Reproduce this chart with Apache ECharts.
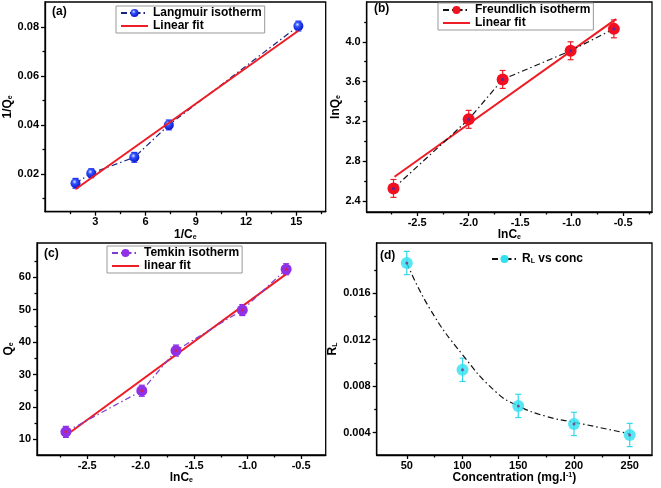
<!DOCTYPE html>
<html><head><meta charset="utf-8">
<script src="https://cdn.jsdelivr.net/npm/echarts@6/dist/echarts.min.js"></script>
<style>html,body{margin:0;padding:0;background:#fff}
#wrap{position:relative;width:661px;height:488px;background:#fff}
.p{position:absolute;left:0;top:0;width:661px;height:488px}</style>
</head><body><div id="wrap"></div>
<script>
// ---------- Data ----------
// (a) Langmuir
const aX = [1.82, 2.76, 5.33, 7.39, 15.12];
const aY = [0.0162, 0.0203, 0.0268, 0.0400, 0.0803];
const aErr = [0.0020, 0.0018, 0.0020, 0.0020, 0.0020];
const aFitX = [1.82, 15.12];
const aFitY = [0.0138, 0.0784];
// (b) Freundlich
const bX = [-2.73, -2.00, -1.67, -1.01, -0.59];
const bY = [2.527, 3.221, 3.622, 3.910, 4.130];
const bErr = [0.09, 0.09, 0.09, 0.09, 0.09];
const bFitX = [-2.72, -0.57];
const bFitY = [2.644, 4.228];
// (c) Temkin
const cX = [-2.70, -1.99, -1.67, -1.05, -0.64];
const cY = [12.3, 25.0, 37.4, 49.9, 62.5];
const cErr = [1.7, 1.7, 1.7, 1.7, 1.7];
const cFitX = [-2.70, -0.64];
const cFitY = [11.2, 61.0];
// (d) RL vs conc
const dX = [50, 100, 150, 200, 250];
const dY = [0.01858, 0.0094, 0.0063, 0.00475, 0.0038];
const dErr = [0.0010, 0.0010, 0.0010, 0.0010, 0.0010];
const dCurveX = [50, 71, 100, 130, 150, 175, 200, 250];
const dCurveY = [0.0186, 0.0146, 0.0107, 0.0075, 0.0063, 0.0054, 0.0049, 0.0039];

// ---------- Tick values ----------
const aXTicks = [3, 6, 9, 12, 15];
const aXMinor = [1.5, 4.5, 7.5, 10.5, 13.5, 16.5];
const aYTicks = [0.02, 0.04, 0.06, 0.08];
const aYMinor = [0.01, 0.03, 0.05, 0.07];
const bXTicks = [-2.5, -2.0, -1.5, -1.0, -0.5];
const bXMinor = [-2.75, -2.25, -1.75, -1.25, -0.75, -0.25];
const bYTicks = [2.4, 2.8, 3.2, 3.6, 4.0];
const bYMinor = [2.6, 3.0, 3.4, 3.8, 4.2];
const cXTicks = [-2.5, -2.0, -1.5, -1.0, -0.5];
const cXMinor = [-2.75, -2.25, -1.75, -1.25, -0.75];
const cYTicks = [10, 20, 30, 40, 50, 60];
const cYMinor = [15, 25, 35, 45, 55, 65];
const dXTicks = [50, 100, 150, 200, 250];
const dXMinor = [75, 125, 175, 225];
const dYTicks = [0.004, 0.008, 0.012, 0.016];
const dYMinor = [0.006, 0.010, 0.014, 0.018];

const FONT = 'Liberation Sans, Arial, sans-serif';
const subRich = {
  n: {fontSize: 12, fontWeight: 'bold', fontFamily: FONT, color: '#000', lineHeight: 12},
  s: {fontSize: 7, fontWeight: 'bold', fontFamily: FONT, color: '#000', lineHeight: 3, verticalAlign: 'bottom'},
  u: {fontSize: 7, fontWeight: 'bold', fontFamily: FONT, color: '#000', lineHeight: 3, verticalAlign: 'top'}
};
const DASHDOT = [6, 3, 1.5, 3];
const LINE_ICON = 'path://M0,0 L30,0 L30,2.2 L0,2.2 Z';
const lineSt = {color: '#000', width: 1.3};

// Visible axes (main + minor tick axis)
function axisPair(dim, min, max, majors, minors, dec, name, nameGap, labelMargin) {
  const pos = dim === 'x' ? 'bottom' : 'left';
  const main = {
    type: 'value', gridIndex: 0, position: pos, min: min, max: max,
    name: name, nameLocation: 'middle', nameGap: nameGap,
    nameRotate: dim === 'x' ? 0 : 90,
    nameTextStyle: {rich: subRich},
    axisLine: {show: true, onZero: false, lineStyle: lineSt},
    axisTick: {show: true, customValues: majors, length: 4, lineStyle: lineSt},
    axisLabel: {show: true, customValues: majors, margin: labelMargin,
      formatter: v => Number(v).toFixed(dec),
      color: '#000', fontWeight: 'bold', fontSize: 11, fontFamily: FONT},
    splitLine: {show: false}
  };
  const minor = {
    type: 'value', gridIndex: 0, position: pos, min: min, max: max,
    axisLine: {show: false, onZero: false},
    axisTick: {show: true, customValues: minors, length: 2.5, lineStyle: lineSt},
    axisLabel: {show: false}, splitLine: {show: false}
  };
  return [main, minor];
}
// Hidden axis with the same scale, used by the marks layer
function hiddenAxis(min, max) {
  return {type: 'value', gridIndex: 0, min: min, max: max, show: false,
    axisLine: {show: false, onZero: false}, splitLine: {show: false}};
}

function errSeries(xs, ys, es, color) {
  return {
    type: 'custom', xAxisIndex: 0, yAxisIndex: 0, silent: true, z: 2,
    data: xs.map((x, i) => [x, ys[i] - es[i], ys[i] + es[i]]),
    renderItem: function (params, api) {
      const x = api.value(0);
      const lo = api.coord([x, api.value(1)]);
      const hi = api.coord([x, api.value(2)]);
      const w = 3;
      const st = {stroke: color, lineWidth: 1.2};
      return {type: 'group', children: [
        {type: 'line', shape: {x1: lo[0], y1: lo[1], x2: hi[0], y2: hi[1]}, style: st},
        {type: 'line', shape: {x1: lo[0] - w, y1: lo[1], x2: lo[0] + w, y2: lo[1]}, style: st},
        {type: 'line', shape: {x1: hi[0] - w, y1: hi[1], x2: hi[0] + w, y2: hi[1]}, style: st}
      ]};
    }
  };
}
const zip = (xs, ys) => xs.map((x, i) => [x, ys[i]]);

const legendText = {fontWeight: 'bold', fontSize: 12, fontFamily: FONT, color: '#000', lineHeight: 12};
function legendBox(names, left, top, bordered, extra) {
  return Object.assign({
    data: names, left: left, top: top, orient: 'vertical',
    borderColor: bordered ? '#999' : 'transparent', borderWidth: bordered ? 1 : 0,
    padding: [1, 3, 1, 4], itemGap: 1, itemWidth: 27, itemHeight: 10,
    textStyle: legendText, selectedMode: false
  }, extra || {});
}
function panelLabel(text, left, top) {
  return {text: text, left: left, top: top, padding: 0,
    textStyle: {fontSize: 12, fontWeight: 'bold', fontFamily: FONT, color: '#000'}};
}
function fitSeries(name, xs, ys) {
  return {name: name, type: 'line', xAxisIndex: 0, yAxisIndex: 0, data: zip(xs, ys),
    symbol: 'none', z: 4, lineStyle: {color: '#ee1c25', width: 2}, itemStyle: {color: '#ee1c25'}};
}

const blueBall = {type: 'radial', x: 0.4, y: 0.35, r: 0.65, colorStops: [
  {offset: 0, color: '#d9e4ff'}, {offset: 0.35, color: '#3050ff'}, {offset: 1, color: '#0a14c8'}]};

const panels = [
  { rect: [45, 2, 280.7, 209.7],
    x: ['x', 0, 16.75, aXTicks, aXMinor, 0, '{n|1/C}{s|e}', 14, 5],
    y: ['y', 0.00464, 0.0901, aYTicks, aYMinor, 2, '{n|1/Q}{s|e}', 27, 6],
    title: panelLabel('(a)', 52, 6),
    legend: legendBox(['Langmuir isotherm', {name: 'Linear fit', icon: LINE_ICON}], 116, 6, true),
    series: [
      errSeries(aX, aY, aErr, '#1a2cff'),
      {name: 'Langmuir isotherm', type: 'line', xAxisIndex: 0, yAxisIndex: 0, data: zip(aX, aY),
       symbol: 'circle', symbolSize: 10, z: 3,
       lineStyle: {color: '#1a237e', width: 1.2, type: DASHDOT}, itemStyle: {color: blueBall}},
      fitSeries('Linear fit', aFitX, aFitY)
    ] },
  { rect: [366.7, 2, 285.3, 210],
    x: ['x', -2.99, -0.22, bXTicks, bXMinor, 1, '{n|lnC}{s|e}', 14, 5],
    y: ['y', 2.29, 4.40, bYTicks, bYMinor, 1, '{n|lnQ}{s|e}', 24, 6],
    title: panelLabel('(b)', 374, 3),
    legend: legendBox(['Freundlich isotherm', {name: 'Linear fit', icon: LINE_ICON}], 438, 3, true),
    series: [
      errSeries(bX, bY, bErr, '#e8202a'),
      {name: 'Freundlich isotherm', type: 'line', xAxisIndex: 0, yAxisIndex: 0, data: zip(bX, bY),
       symbol: 'circle', symbolSize: 12, z: 5,
       lineStyle: {color: '#111', width: 1.2, type: DASHDOT}, itemStyle: {color: '#f01020'}},
      fitSeries('Linear fit', bFitX, bFitY),
      {type: 'scatter', xAxisIndex: 0, yAxisIndex: 0, data: zip(bX, bY), symbolSize: 3, z: 6,
       itemStyle: {color: '#3030c0'}, silent: true}
    ] },
  { rect: [37, 243, 288.7, 212],
    x: ['x', -2.97, -0.27, cXTicks, cXMinor, 1, '{n|lnC}{s|e}', 15, 5],
    y: ['y', 5.16, 70.6, cYTicks, cYMinor, 0, '{n|Q}{s|e}', 22, 6],
    title: panelLabel('(c)', 44, 248),
    legend: legendBox(['Temkin isotherm', {name: 'linear fit', icon: LINE_ICON}], 107, 246, true),
    series: [
      errSeries(cX, cY, cErr, '#8b2be0'),
      {name: 'Temkin isotherm', type: 'line', xAxisIndex: 0, yAxisIndex: 0, data: zip(cX, cY),
       symbol: 'circle', symbolSize: 11, z: 5,
       lineStyle: {color: '#7b3fd0', width: 1.2, type: DASHDOT}, itemStyle: {color: '#9030e8'}},
      fitSeries('linear fit', cFitX, cFitY),
      {type: 'scatter', xAxisIndex: 0, yAxisIndex: 0, data: zip(cX, cY), symbolSize: 3, z: 6,
       itemStyle: {color: '#e02030'}, silent: true}
    ] },
  { rect: [376.7, 243, 275.3, 212],
    x: ['x', 23, 270, dXTicks, dXMinor, 0, '{n|Concentration (mg.l}{u|-1}{n|)}', 16, 5],
    y: ['y', 0.00208, 0.0203, dYTicks, dYMinor, 3, '{n|R}{s|L}', 38, 6],
    title: panelLabel('(d)', 380, 250),
    legend: legendBox(['RL vs conc'], 487, 252, false, {itemWidth: 25,
      formatter: () => '{n|R}{s|L}{n| vs conc}',
      textStyle: Object.assign({}, legendText, {rich: subRich})}),
    series: [
      errSeries(dX, dY, dErr, '#30d8ec'),
      {name: 'RL vs conc', type: 'line', xAxisIndex: 0, yAxisIndex: 0, smooth: true,
       data: dCurveX.map((x, i) => ({value: [x, dCurveY[i]], symbol: 'none'})),
       symbol: 'circle', symbolSize: 11, z: 3,
       lineStyle: {color: '#111', width: 1.2, type: DASHDOT}, itemStyle: {color: '#30e0f0'}},
      {type: 'scatter', xAxisIndex: 0, yAxisIndex: 0, data: zip(dX, dY), symbolSize: 12, z: 5,
       itemStyle: {color: '#30e0f0'}, silent: true},
      {type: 'scatter', xAxisIndex: 0, yAxisIndex: 0, data: zip(dX, dY), symbolSize: 3, z: 6,
       itemStyle: {color: '#8a3080'}, silent: true}
    ] }
];

const wrap = document.getElementById('wrap');
function newLayer() {
  const d = document.createElement('div');
  d.className = 'p';
  wrap.appendChild(d);
  return echarts.init(d, null, {renderer: 'canvas'});
}
panels.forEach(p => {
  const gridBase = {left: p.rect[0], top: p.rect[1], width: p.rect[2], height: p.rect[3], containLabel: false};
  // Layer 1: frame and visible axes only
  newLayer().setOption({
    animation: false, backgroundColor: 'transparent',
    grid: Object.assign({show: true, borderColor: '#000', borderWidth: 1.3}, gridBase),
    xAxis: axisPair.apply(null, p.x),
    yAxis: axisPair.apply(null, p.y),
    series: []
  });
  // Layer 2: the marks, legend and panel label on the same scales
  newLayer().setOption({
    animation: false, backgroundColor: 'transparent',
    grid: Object.assign({show: false}, gridBase),
    xAxis: hiddenAxis(p.x[1], p.x[2]),
    yAxis: hiddenAxis(p.y[1], p.y[2]),
    title: p.title,
    legend: p.legend,
    series: p.series
  });
});
</script></body></html>
